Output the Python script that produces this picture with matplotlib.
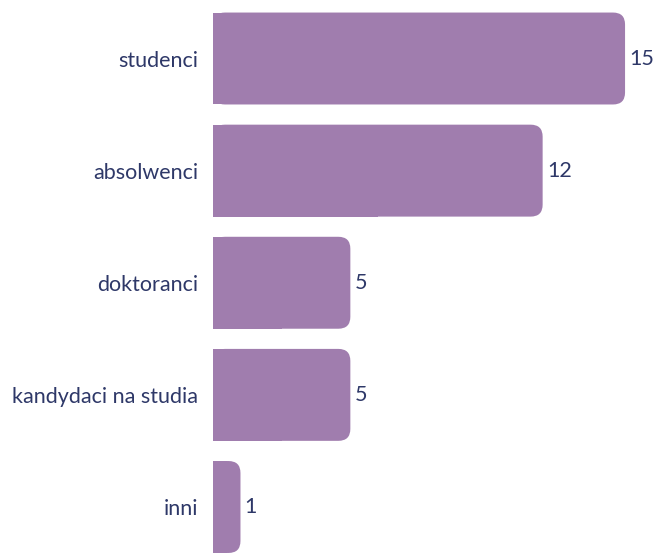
import matplotlib
matplotlib.use("Agg")
import matplotlib.pyplot as plt
from matplotlib.patches import FancyBboxPatch

categories = ["studenci", "absolwenci", "doktoranci", "kandydaci na studia", "inni"]
values = [15, 12, 5, 5, 1]

bar_color = "#a07dae"
text_color = "#2e3868"

plt.rcParams['font.family'] = ['Lato', 'DejaVu Sans']

fig = plt.figure(figsize=(6.54, 5.53), dpi=100)
ax = fig.add_axes([213/654, 0, 1 - 213/654, 1])

ypos = list(range(len(categories)))
bars = ax.barh(ypos, values, height=0.82, color=bar_color, linewidth=0)

ax.set_xlim(0, (654 - 213) / 27.47)
ax.set_ylim(4 + 46/112.1, -58.5/112.1)

rx = 12 / 27.47
ry = 12 / 112.1
for b in bars:
    x, y, w, h = b.get_x(), b.get_y(), b.get_width(), b.get_height()
    p = FancyBboxPatch((x, y), w, h,
                       boxstyle=f"round,pad=0,rounding_size={rx}",
                       mutation_aspect=ry / rx,
                       facecolor=bar_color, edgecolor="none")
    ax.add_patch(p)
    b.set_width(w / 2)

for v, y in zip(values, ypos):
    ax.annotate(str(v), (v, y), xytext=(3, 0), textcoords="offset points",
                va="center", ha="left", fontsize=15.5, color=text_color)

ax.set_yticks(ypos)
ax.set_yticklabels(categories, fontsize=15.5, color=text_color)
ax.tick_params(axis='y', length=0, pad=10.5)
ax.set_xticks([])
for s in ax.spines.values():
    s.set_visible(False)

fig.savefig("out.png", dpi=100)
